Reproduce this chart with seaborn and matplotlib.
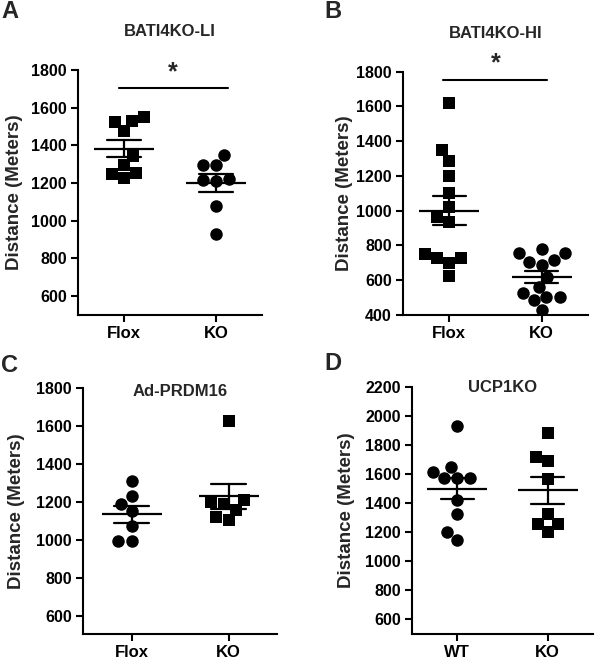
import numpy as np
import pandas as pd
import matplotlib
matplotlib.use("Agg")
import matplotlib.pyplot as plt
import seaborn as sns

# ---------------- data ----------------
a_groups = ["Flox", "KO"]
a_flox = [1527, 1550, 1522, 1474, 1342, 1295, 1254, 1228, 1249]
a_ko = [1298, 1298, 1351, 1219, 1210, 1214, 1078, 932]

b_groups = ["Flox", "KO"]
b_flox = [1618, 1349, 1288, 1200, 1104, 1020, 966, 937, 726, 726, 750, 698, 624]
b_ko = [755, 707, 755, 780, 716, 687, 620, 563, 505, 527, 505, 486, 429]

c_groups = ["Flox", "KO"]
c_flox = [1313, 1232, 1150, 1190, 1071, 995, 995]
c_ko = [1624, 1200, 1210, 1160, 1190, 1105, 1120]

d_groups = ["WT", "KO"]
d_wt = [1930, 1647, 1617, 1571, 1571, 1571, 1418, 1327, 1201, 1144]
d_ko = [1880, 1720, 1686, 1566, 1327, 1258, 1258, 1201]

titles = ["BATI4KO-LI", "BATI4KO-HI", "Ad-PRDM16", "UCP1KO"]
letters = ["A", "B", "C", "D"]
yticks_a = [600, 800, 1000, 1200, 1400, 1600, 1800]
yticks_b = [400, 600, 800, 1000, 1200, 1400, 1600, 1800]
yticks_c = [600, 800, 1000, 1200, 1400, 1600, 1800]
yticks_d = [600, 800, 1000, 1200, 1400, 1600, 1800, 2000, 2200]
sig_a = 1703
sig_b = 1752

# ---------------- style ----------------
sns.set_style("ticks")
plt.rcParams["font.family"] = ["Liberation Sans", "DejaVu Sans"]
plt.rcParams["font.weight"] = "bold"
plt.rcParams["axes.labelweight"] = "bold"
plt.rcParams["axes.linewidth"] = 1.5
plt.rcParams["xtick.major.width"] = 1.5
plt.rcParams["ytick.major.width"] = 1.5
plt.rcParams["xtick.major.size"] = 5
plt.rcParams["ytick.major.size"] = 5
plt.rcParams["xtick.color"] = "black"
plt.rcParams["ytick.color"] = "black"
plt.rcParams["axes.edgecolor"] = "black"

fig = plt.figure(figsize=(6, 6.6), dpi=100)
W, H = 600, 660


def add_ax(left, right, top, bottom):
    return fig.add_axes([left / W, 1 - bottom / H, (right - left) / W, (bottom - top) / H])


def panel(ax, groups, v1, v2, m1, m2, ylim, yticks):
    df1 = pd.DataFrame({"g": groups[0], "v": v1})
    df2 = pd.DataFrame({"g": groups[1], "v": v2})
    sns.swarmplot(data=df1, x="g", y="v", order=groups, marker=m1, size=9,
                  color="black", linewidth=0, ax=ax, zorder=2)
    sns.swarmplot(data=df2, x="g", y="v", order=groups, marker=m2, size=9,
                  color="black", linewidth=0, ax=ax, zorder=2)
    df = pd.concat([df1, df2], ignore_index=True)
    sns.pointplot(data=df, x="g", y="v", order=groups, errorbar="se",
                  capsize=0.36, linestyle="none", marker="_", markersize=43,
                  markeredgewidth=1.6, color="black",
                  err_kws={"linewidth": 1.6}, ax=ax, zorder=4)
    ax.set_xlim(-0.5, 1.5)
    ax.set_ylim(*ylim)
    ax.set_yticks(yticks)
    ax.set_xlabel("")
    ax.set_ylabel("Distance (Meters)", fontsize=13.5, fontweight="bold")
    ax.tick_params(axis="y", labelsize=11.5, pad=3)
    ax.tick_params(axis="x", labelsize=12, pad=3)
    for lab in ax.get_xticklabels() + ax.get_yticklabels():
        lab.set_fontweight("bold")
    sns.despine(ax=ax)


axA = add_ax(78, 262, 70, 315)
panel(axA, a_groups, a_flox, a_ko, "s", "o", (500, 1800), yticks_a)
axB = add_ax(403, 588, 71.7, 315)
panel(axB, b_groups, b_flox, b_ko, "s", "o", (400, 1800), yticks_b)
axC = add_ax(83, 277, 388, 634)
panel(axC, c_groups, c_flox, c_ko, "o", "s", (505, 1800), yticks_c)
axD = add_ax(412, 593, 386.7, 634)
panel(axD, d_groups, d_wt, d_ko, "o", "s", (500, 2200), yticks_d)

# titles
axA.text(0.5, 1.159, titles[0], transform=axA.transAxes, ha="center", va="center",
         fontsize=12, fontweight="bold")
axB.text(0.5, 1.155, titles[1], transform=axB.transAxes, ha="center", va="center",
         fontsize=12, fontweight="bold")
axC.text(0.5, 0.984, titles[2], transform=axC.transAxes, ha="center", va="center",
         fontsize=12, fontweight="bold")
axD.text(0.5, 0.995, titles[3], transform=axD.transAxes, ha="center", va="center",
         fontsize=12, fontweight="bold")

# y label positions
axA.yaxis.set_label_coords(-0.30, 0.5)
axB.yaxis.set_label_coords(-0.27, 0.5)
axC.yaxis.set_label_coords(-0.30, 0.5)
axD.yaxis.set_label_coords(-0.315, 0.5)

# significance bars
axA.plot([-0.05, 1.13], [sig_a, sig_a], color="black", lw=1.5, clip_on=False)
axA.text(0.53, sig_a + 20, "*", ha="center", va="bottom", fontsize=18,
         fontweight="bold", clip_on=False)
axB.plot([-0.065, 1.06], [sig_b, sig_b], color="black", lw=1.5, clip_on=False)
axB.text(0.5, sig_b + 25, "*", ha="center", va="bottom", fontsize=18,
         fontweight="bold", clip_on=False)

# panel letters
for (x, y), L in zip([(1, 11), (324, 11), (1, 366), (324, 363)], letters):
    fig.text(x / W, 1 - y / H, L, ha="left", va="center", fontsize=17,
             fontweight="bold")

fig.savefig("out.png", dpi=100)
